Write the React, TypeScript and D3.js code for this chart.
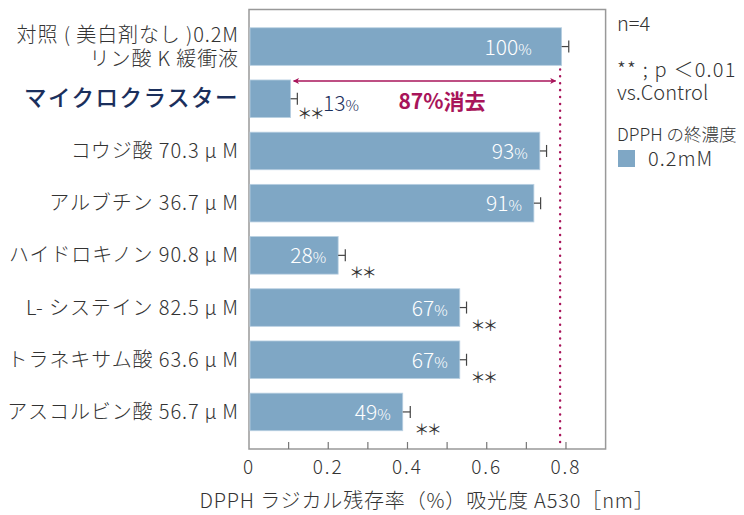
import React from "react";
import * as d3 from "d3";

const categories = [
  "対照 ( 美白剤なし )0.2M\nリン酸 K 緩衝液",
  "マイクロクラスター",
  "コウジ酸 70.3\u2009μ\u2009M",
  "アルブチン 36.7\u2009μ\u2009M",
  "ハイドロキノン 90.8\u2009μ\u2009M",
  "L- システイン 82.5\u2009μ\u2009M",
  "トラネキサム酸 63.6\u2009μ\u2009M",
  "アスコルビン酸 56.7\u2009μ\u2009M",
];
const values = [0.789, 0.105, 0.734, 0.719, 0.225, 0.532, 0.532, 0.388];
const errors = [0.018, 0.017, 0.017, 0.017, 0.018, 0.017, 0.017, 0.019];
const percentLabels = ["100", "13", "93", "91", "28", "67", "67", "49"];
const significance = ["", "**", "", "", "**", "**", "**", "**"];
const majorTicks = [0, 0.2, 0.4, 0.6, 0.8];
const minorTicks = [0.1, 0.2, 0.3, 0.4, 0.5, 0.6, 0.7, 0.8];
const removalLabel = "87%消去";
const axisTitle = "DPPH ラジカル残存率（%）吸光度 A530［nm］";
const notes = ["n=4", "** ; p ＜0.01", "vs.Control"];
const legendTitle = "DPPH の終濃度";
const legendLabel = "0.2mM";

const FONT = "'Noto Sans CJK JP', 'Noto Sans', sans-serif";
const BAR = "#7fa7c5";
const CRIMSON = "#a8145a";
const NAVY = "#1b2f5c";
const TEXT = "#333333";

export default function App() {
  const left = 249, right = 605.6, top = 9.5, bottom = 449;
  const x = d3.scaleLinear().domain([0, 0.9]).range([left, right]);
  const y = d3
    .scaleBand<number>()
    .domain(d3.range(categories.length))
    .range([top, bottom])
    .paddingInner(0.28)
    .paddingOuter(0.35);
  const bw = y.bandwidth();
  const cy = (i: number) => (y(i) as number) + bw / 2;

  return (
    <svg
      width={744}
      height={515}
      style={{ position: "absolute", left: 0, top: 0, background: "#fff" }}
      fontFamily={FONT}
      fontWeight={300}
    >
      {/* frame */}
      <rect x={left} y={top} width={right - left} height={bottom - top} fill="none" stroke="#999" strokeWidth={1.5} />

      {/* ticks */}
      {minorTicks.map((t) => (
        <line key={"t" + t} x1={x(t)} x2={x(t)} y1={bottom} y2={bottom - 7} stroke="#777" strokeWidth={1.2} />
      ))}
      {majorTicks.map((t) => (
        <text key={"l" + t} x={x(t)} y={474} textAnchor="middle" fontSize={19} fill={TEXT} letterSpacing={2}>
          {t === 0 ? "0" : d3.format(".1f")(t)}
        </text>
      ))}
      <text x={427} y={508} textAnchor="middle" fontSize={20} fill={TEXT} letterSpacing={0.85}>
        {axisTitle}
      </text>

      {/* dotted reference line */}
      <line
        x1={x(values[0]) - 1.5}
        x2={x(values[0]) - 1.5}
        y1={(y(0) as number) + bw + 4}
        y2={bottom - 1}
        stroke={CRIMSON}
        strokeWidth={2.4}
        strokeLinecap="round"
        strokeDasharray="0.1 6.8"
      />

      {/* bars */}
      {values.map((v, i) => (
        <g key={"b" + i}>
          <rect x={x(0) + 1} y={y(i)} width={x(v) - x(0) - 1} height={bw} fill={BAR} stroke="#b9d0e2" strokeWidth={0.8} />
          <line x1={x(v)} x2={x(v + errors[i])} y1={cy(i)} y2={cy(i)} stroke="#444" strokeWidth={1.2} />
          <line x1={x(v + errors[i])} x2={x(v + errors[i])} y1={cy(i) - 6} y2={cy(i) + 6} stroke="#444" strokeWidth={1.2} />
        </g>
      ))}

      {/* value labels inside bars */}
      {values.map((v, i) =>
        i === 1 ? null : (
          <text
            key={"v" + i}
            x={x(v) - (i === 0 ? 30 : 12)}
            y={cy(i) + 8}
            textAnchor="end"
            fill="#fff"
            fontSize={21}
          >
            {percentLabels[i]}
            <tspan fontSize={15}>%</tspan>
          </text>
        )
      )}

      {/* significance marks */}
      {values.map((v, i) =>
        significance[i] ? (
          <text
            key={"s" + i}
            x={x(v + errors[i]) + (i === 1 ? 0 : 4)}
            y={cy(i) + (i === 1 ? 20 : 23)}
            fontSize={15}
            fontWeight={400}
            fill={TEXT}
            letterSpacing={-2.5}
          >
            ＊＊
          </text>
        ) : null
      )}
      <text x={323} y={cy(1) + 12} fontSize={21} fill={NAVY}>
        {percentLabels[1]}
        <tspan fontSize={15}>%</tspan>
      </text>

      {/* arrow */}
      <defs>
        <marker id="ah" viewBox="0 0 10 10" refX={9} refY={5} markerWidth={6} markerHeight={6} orient="auto-start-reverse" markerUnits="userSpaceOnUse">
          <path d="M0,0 L10,5 L0,10 L2.5,5 Z" fill={CRIMSON} />
        </marker>
      </defs>
      <line
        x1={x(values[1]) + 3}
        x2={x(values[0]) - 6}
        y1={(y(1) as number) + 1}
        y2={(y(1) as number) + 1}
        stroke={CRIMSON}
        strokeWidth={1.6}
        markerStart="url(#ah)"
        markerEnd="url(#ah)"
      />
      <text x={442} y={cy(1) + 10} textAnchor="middle" fontSize={21} fontWeight={700} fill={CRIMSON}>
        {removalLabel}
      </text>

      {/* category labels */}
      {categories.map((c, i) => {
        const lines = c.split("\n");
        const isMicro = i === 1;
        return (
          <text
            key={"c" + i}
            x={239}
            textAnchor="end"
            fontSize={isMicro ? 22.5 : 20}
            fontWeight={isMicro ? 500 : 300}
            fill={isMicro ? NAVY : TEXT}
            letterSpacing={isMicro ? 1.5 : 0.9}
          >
            {lines.map((ln, k) => (
              <tspan key={k} x={239} y={cy(i) + 7 + (k - (lines.length - 1) / 2) * 24}>
                {ln}
              </tspan>
            ))}
          </text>
        );
      })}

      {/* notes & legend */}
      <text x={617} y={31} fontSize={20} fill={TEXT}>{notes[0]}</text>
      <text x={617} y={77} fontSize={20} fill={TEXT} letterSpacing={1.2}>{notes[1]}</text>
      <text x={617} y={100} fontSize={20} fill={TEXT}>{notes[2]}</text>
      <text x={617} y={141} fontSize={17.5} fill={TEXT}>{legendTitle}</text>
      <rect x={618} y={150} width={17} height={17} fill={BAR} />
      <text x={648} y={166} fontSize={20} fill={TEXT} letterSpacing={1}>{legendLabel}</text>
    </svg>
  );
}
